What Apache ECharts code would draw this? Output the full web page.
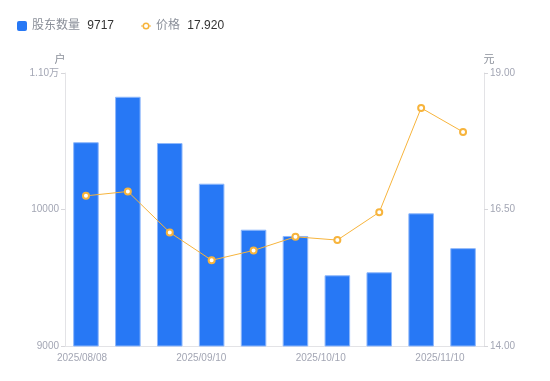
<!DOCTYPE html>
<html><head><meta charset="utf-8">
<script src="https://cdn.jsdelivr.net/npm/echarts@6/dist/echarts.min.js"></script>
<style>html,body{margin:0;padding:0;background:#fff}#c{width:550px;height:381px}</style>
</head><body><div id="c"></div>
<script>
var dates = ['2025/08/08','2025/08/20','2025/08/31','2025/09/10','2025/09/20','2025/09/30','2025/10/10','2025/10/20','2025/10/31','2025/11/10'];
var holders = [10493, 10826, 10487, 10189, 9852, 9806, 9518, 9540, 9972, 9717];
var prices = [16.75, 16.83, 16.08, 15.57, 15.75, 16.00, 15.94, 16.45, 18.36, 17.92];
var leftTicks = [9000, 10000, 11000];
var rightTicks = [14.00, 16.50, 19.00];

var chart = echarts.init(document.getElementById('c'), null, {renderer:'canvas'});
var font = '"Liberation Sans", Arial, "Noto Sans CJK SC", sans-serif';
var squareIcon = 'path://M2,0 H8 Q10,0 10,2 V8 Q10,10 8,10 H2 Q0,10 0,8 V2 Q0,0 2,0 Z';
var lineIcon = 'path://M0,4.5 H2 V5.5 H0 Z M8,4.5 H10 V5.5 H8 Z M8.5,5 A3.5,3.5 0 1,1 1.5,5 A3.5,3.5 0 1,1 8.5,5 Z M7,5 A2,2 0 1,0 3,5 A2,2 0 1,0 7,5 Z';
chart.setOption({
  animation:false,
  textStyle:{fontFamily:font},
  legend:{
    left:12, top:15, itemGap:27, itemWidth:10, itemHeight:10,
    data:[{name:'股东数量', icon:squareIcon, itemStyle:{color:'#2778F5', borderWidth:0}},
          {name:'价格', icon:lineIcon, itemStyle:{color:'#F7B43C', borderWidth:0}}],
    textStyle:{fontSize:12, fontFamily:font, color:'#8a8f99', rich:{v:{color:'#333', fontSize:12, fontFamily:font, padding:[0,0,0,4]}}},
    formatter:function(n){ return n==='股东数量' ? n+' {v|'+holders[holders.length-1]+'}' : n+' {v|'+prices[prices.length-1].toFixed(3)+'}'; }
  },
  grid:[{left:65, right:66, top:73, bottom:35},{left:82, right:110, top:73, bottom:35}],
  xAxis:[
    {type:'category', gridIndex:0, data:dates, axisLine:{lineStyle:{color:'#e3e3e6'}}, axisTick:{show:false}, axisLabel:{show:false}},
    {type:'category', gridIndex:1, data:dates, boundaryGap:false, axisLine:{show:false}, axisTick:{show:false},
      axisLabel:{interval:2, color:'#a3a6b4', fontSize:10, fontFamily:font, margin:7, formatter:function(v,i){return (i%3===0)?v:'';}}}
  ],
  yAxis:[
    {type:'value', gridIndex:0, min:leftTicks[0], max:leftTicks[2], interval:1000, name:'户', nameGap:8,
      nameTextStyle:{color:'#8a8f99', fontSize:11, padding:[0,0,0,-10]},
      axisLine:{show:true, lineStyle:{color:'#e3e3e6'}}, axisTick:{show:true, length:4, lineStyle:{color:'#d6d6da'}},
      splitLine:{show:false},
      axisLabel:{color:'#a3a6b4', fontSize:10, fontFamily:font, margin:6, formatter:function(v){return v>=11000?(v/10000).toFixed(2)+'万':String(v);}}},
    {type:'value', gridIndex:0, min:rightTicks[0], max:rightTicks[2], interval:2.5, name:'元', nameGap:8,
      nameTextStyle:{color:'#8a8f99', fontSize:11, padding:[0,0,0,10]},
      axisLine:{show:true, lineStyle:{color:'#e3e3e6'}}, axisTick:{show:true, length:4, lineStyle:{color:'#d6d6da'}},
      splitLine:{show:false},
      axisLabel:{color:'#a3a6b4', fontSize:10, fontFamily:font, margin:6, formatter:function(v){return v.toFixed(2);}}},
    {type:'value', gridIndex:1, show:false}
  ],
  series:[
    {name:'股东数量', type:'bar', xAxisIndex:0, yAxisIndex:0, data:holders, barWidth:'61%',
      itemStyle:{color:'#2778F5', borderColor:'#8fb8fb', borderWidth:1}},
    {name:'价格', type:'line', xAxisIndex:0, yAxisIndex:1, data:prices, symbol:'emptyCircle', symbolSize:6,
      lineStyle:{color:'#F7B43C', width:1}, itemStyle:{color:'#F7B43C', borderWidth:2}}
  ]
});
</script></body></html>
